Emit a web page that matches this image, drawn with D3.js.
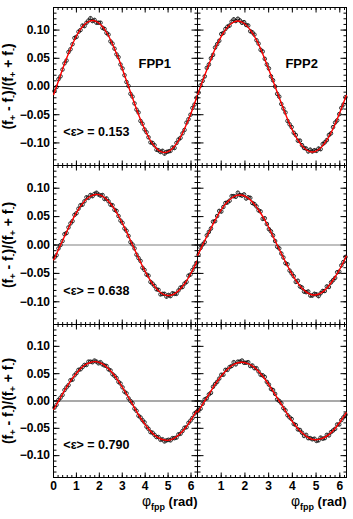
<!DOCTYPE html>
<html>
<head>
<meta charset="utf-8">
<script src="https://cdn.jsdelivr.net/npm/d3@7"></script>
<style>
  body { margin: 0; background: #fff; }
  text { font-family: "Liberation Sans", Arial, sans-serif; font-weight: bold; fill: #000; }
  .tick text { font: bold 12px "Liberation Sans", Arial, sans-serif; fill: #000; }
</style>
</head>
<body>
<div id="grafico"></div>
<script>
// ---- data ----
var fppNames = ["FPP1", "FPP2"];
var epsMean = ["0.153", "0.638", "0.790"];
var yTicks = [-0.10, -0.05, 0, 0.05, 0.10];
var xTicksLeft = [0, 1, 2, 3, 4, 5, 6];
var xTicksRight = [1, 2, 3, 4, 5, 6];
var nBins = 72;   // bins over 0..2pi

// asymmetry per bin, rows = <eps>, columns = FPP1 / FPP2
var asymTL = [-0.008,-0.001,0.013,0.018,0.030,0.041,0.046,0.061,0.066,0.075,
  0.086,0.088,0.097,0.100,0.108,0.107,0.113,0.117,0.121,0.116,
  0.118,0.113,0.113,0.113,0.104,0.102,0.095,0.092,0.080,0.076,
  0.067,0.057,0.052,0.039,0.032,0.020,0.008,0.001,-0.013,-0.018,
  -0.030,-0.041,-0.046,-0.061,-0.066,-0.076,-0.081,-0.090,-0.099,-0.100,
  -0.104,-0.112,-0.113,-0.116,-0.114,-0.119,-0.116,-0.115,-0.114,-0.108,
  -0.109,-0.100,-0.094,-0.091,-0.083,-0.077,-0.064,-0.058,-0.050,-0.038,
  -0.032,-0.020];
var asymTR = [-0.011,0.002,0.010,0.018,0.033,0.039,0.050,0.056,0.069,0.075,
  0.081,0.093,0.095,0.102,0.106,0.108,0.115,0.119,0.116,0.120,
  0.117,0.113,0.114,0.109,0.108,0.098,0.096,0.092,0.082,0.076,
  0.065,0.062,0.049,0.039,0.032,0.018,0.011,0.000,-0.013,-0.018,
  -0.031,-0.039,-0.046,-0.061,-0.067,-0.072,-0.082,-0.086,-0.096,-0.096,
  -0.104,-0.109,-0.110,-0.115,-0.112,-0.115,-0.113,-0.114,-0.110,-0.111,
  -0.102,-0.099,-0.095,-0.086,-0.083,-0.072,-0.064,-0.060,-0.049,-0.038,
  -0.032,-0.019];
var asymML = [-0.022,-0.018,-0.006,0.000,0.007,0.019,0.021,0.031,0.038,0.042,
  0.053,0.056,0.064,0.070,0.071,0.077,0.084,0.083,0.088,0.086,
  0.090,0.092,0.089,0.087,0.088,0.081,0.082,0.077,0.071,0.070,
  0.062,0.060,0.051,0.043,0.039,0.029,0.025,0.016,0.005,0.001,
  -0.006,-0.017,-0.023,-0.028,-0.040,-0.044,-0.052,-0.054,-0.065,-0.068,
  -0.072,-0.078,-0.079,-0.087,-0.086,-0.086,-0.091,-0.088,-0.090,-0.085,
  -0.086,-0.086,-0.080,-0.075,-0.074,-0.068,-0.065,-0.054,-0.052,-0.044,
  -0.038,-0.032];
var asymMR = [-0.017,-0.005,0.001,0.005,0.017,0.023,0.029,0.041,0.042,0.051,
  0.060,0.059,0.067,0.074,0.075,0.078,0.086,0.086,0.085,0.092,
  0.088,0.087,0.089,0.082,0.084,0.083,0.074,0.072,0.068,0.061,
  0.059,0.046,0.047,0.037,0.028,0.024,0.017,0.007,-0.003,-0.006,
  -0.015,-0.022,-0.032,-0.034,-0.045,-0.050,-0.055,-0.065,-0.063,-0.073,
  -0.075,-0.082,-0.083,-0.082,-0.089,-0.089,-0.086,-0.087,-0.090,-0.085,
  -0.081,-0.081,-0.073,-0.074,-0.066,-0.062,-0.058,-0.048,-0.047,-0.036,
  -0.030,-0.021];
var asymBL = [-0.012,-0.007,0.002,0.006,0.011,0.020,0.025,0.029,0.038,0.039,
  0.047,0.051,0.057,0.058,0.062,0.066,0.066,0.072,0.072,0.071,
  0.074,0.072,0.069,0.071,0.067,0.065,0.064,0.058,0.056,0.049,
  0.046,0.042,0.035,0.032,0.025,0.017,0.014,0.005,0.000,-0.004,
  -0.014,-0.018,-0.027,-0.030,-0.035,-0.039,-0.047,-0.051,-0.057,-0.058,
  -0.062,-0.066,-0.066,-0.071,-0.070,-0.074,-0.072,-0.071,-0.072,-0.068,
  -0.068,-0.067,-0.061,-0.060,-0.055,-0.049,-0.048,-0.040,-0.036,-0.031,
  -0.023,-0.020];
var asymBR = [-0.016,-0.014,-0.005,0.003,0.005,0.012,0.015,0.026,0.031,0.035,
  0.041,0.048,0.048,0.057,0.057,0.062,0.064,0.071,0.067,0.072,
  0.072,0.074,0.070,0.070,0.071,0.064,0.065,0.060,0.060,0.054,
  0.048,0.047,0.044,0.035,0.030,0.022,0.020,0.013,0.003,0.000,
  -0.004,-0.013,-0.017,-0.026,-0.030,-0.033,-0.042,-0.044,-0.052,-0.053,
  -0.058,-0.064,-0.062,-0.068,-0.068,-0.070,-0.069,-0.073,-0.072,-0.067,
  -0.069,-0.068,-0.062,-0.063,-0.057,-0.054,-0.051,-0.043,-0.043,-0.035,
  -0.030,-0.025];
var errBar = [0.003, 0.0035, 0.003, 0.0035, 0.0025, 0.003];

// red fit curve, sampled every 15 degrees
var fitPhiDeg = [0,15,30,45,60,75,90,105,120,135,150,165,180,195,210,225,240,255,270,285,300,315,330,345,360];
var fitTL = [-0.015,0.015,0.045,0.071,0.093,0.108,0.116,0.116,0.108,0.093,0.071,0.045,0.015,-0.015,-0.045,-0.071,-0.093,-0.108,-0.116,-0.116,-0.108,-0.093,-0.071,-0.045,-0.015];
var fitTR = [-0.015,0.015,0.044,0.071,0.092,0.107,0.115,0.115,0.107,0.092,0.071,0.044,0.015,-0.015,-0.044,-0.071,-0.092,-0.107,-0.115,-0.115,-0.107,-0.092,-0.071,-0.044,-0.015];
var fitML = [-0.027,-0.004,0.019,0.041,0.060,0.075,0.085,0.089,0.087,0.079,0.066,0.048,0.027,0.004,-0.019,-0.041,-0.060,-0.075,-0.085,-0.089,-0.087,-0.079,-0.066,-0.048,-0.027];
var fitMR = [-0.019,0.004,0.026,0.047,0.065,0.078,0.086,0.088,0.084,0.074,0.059,0.041,0.019,-0.004,-0.026,-0.047,-0.065,-0.078,-0.086,-0.088,-0.084,-0.074,-0.059,-0.041,-0.019];
var fitBL = [-0.016,0.003,0.022,0.039,0.053,0.064,0.070,0.072,0.069,0.061,0.049,0.033,0.016,-0.003,-0.022,-0.039,-0.053,-0.064,-0.070,-0.072,-0.069,-0.061,-0.049,-0.033,-0.016];
var fitBR = [-0.021,-0.003,0.015,0.033,0.048,0.060,0.068,0.071,0.069,0.063,0.052,0.038,0.021,0.003,-0.015,-0.033,-0.048,-0.060,-0.068,-0.071,-0.069,-0.063,-0.052,-0.038,-0.021];

// ---- layout ----
var colX = [[53.5, 197.5], [197.5, 346.5]];
var rowY = [[7.5, 165.5], [165.5, 324.5], [324.5, 477.5]];
var zeroColor = ["#444", "#aaa", "#8c8c8c"];
var zeroWidth = [1, 1.6, 1.4];

var svg = d3.select("#grafico")
  .append("svg")
  .attr("width", 353)
  .attr("height", 519);

var phiMax = 2 * Math.PI;
var binPhi = d3.range(nBins).map(function(i) { return (i + 0.5) * phiMax / nBins; });
var yMinor = d3.range(-14, 15).map(function(v) { return v / 100; });
var xMinor = d3.range(0, 32).map(function(v) { return v / 5; });

var panels = [
  {row: 0, col: 0, pts: asymTL, fit: fitTL, err: errBar[0]},
  {row: 0, col: 1, pts: asymTR, fit: fitTR, err: errBar[1]},
  {row: 1, col: 0, pts: asymML, fit: fitML, err: errBar[2]},
  {row: 1, col: 1, pts: asymMR, fit: fitMR, err: errBar[3]},
  {row: 2, col: 0, pts: asymBL, fit: fitBL, err: errBar[4]},
  {row: 2, col: 1, pts: asymBR, fit: fitBR, err: errBar[5]}
];

panels.forEach(function(p) {
  var x0 = colX[p.col][0], x1 = colX[p.col][1];
  var y0 = rowY[p.row][0], y1 = rowY[p.row][1];

  var x = d3.scaleLinear().domain([0, phiMax]).range([x0, x1]);
  var y = d3.scaleLinear().domain([-0.14, 0.14]).range([y1, y0]);

  var g = svg.append("g");

  // zero line
  g.append("line")
    .attr("x1", x0).attr("x2", x1)
    .attr("y1", y(0)).attr("y2", y(0))
    .attr("stroke", zeroColor[p.row])
    .attr("stroke-width", zeroWidth[p.row]);

  // minor ticks, all four sides, pointing inwards
  g.append("g").attr("transform", "translate(" + x0 + ",0)")
    .call(d3.axisLeft(y).offset(0).tickValues(yMinor).tickSizeInner(-3).tickSizeOuter(0).tickFormat(""));
  g.append("g").attr("transform", "translate(" + x1 + ",0)")
    .call(d3.axisRight(y).offset(0).tickValues(yMinor).tickSizeInner(-3).tickSizeOuter(0).tickFormat(""));
  g.append("g").attr("transform", "translate(0," + y1 + ")")
    .call(d3.axisBottom(x).offset(0).tickValues(xMinor).tickSizeInner(-2.5).tickSizeOuter(0).tickFormat(""));
  g.append("g").attr("transform", "translate(0," + y0 + ")")
    .call(d3.axisTop(x).offset(0).tickValues(xMinor).tickSizeInner(-2.5).tickSizeOuter(0).tickFormat(""));

  // major ticks
  var yLeft = d3.axisLeft(y).offset(0).tickValues(yTicks).tickSizeInner(-6).tickSizeOuter(0).tickPadding(3.5);
  if (p.col == 1) yLeft.tickFormat("");
  else yLeft.tickFormat(d3.format(".2f"));
  g.append("g").attr("transform", "translate(" + x0 + ",0)").call(yLeft);
  g.append("g").attr("transform", "translate(" + x1 + ",0)")
    .call(d3.axisRight(y).offset(0).tickValues(yTicks).tickSizeInner(-6).tickSizeOuter(0).tickFormat(""));

  var xBot = d3.axisBottom(x).offset(0)
    .tickValues(p.col == 0 ? xTicksLeft : xTicksRight)
    .tickSizeInner(-5).tickSizeOuter(0).tickPadding(4)
    .tickFormat(p.row == 2 ? d3.format("d") : "");
  g.append("g").attr("transform", "translate(0," + y1 + ")").call(xBot);
  g.append("g").attr("transform", "translate(0," + y0 + ")")
    .call(d3.axisTop(x).offset(0).tickValues(xTicksLeft).tickSizeInner(-5).tickSizeOuter(0).tickFormat(""));

  // frame
  g.append("rect")
    .attr("x", x0).attr("y", y0)
    .attr("width", x1 - x0).attr("height", y1 - y0)
    .attr("fill", "none").attr("stroke", "#000").attr("stroke-width", 1);

  // error bars + open circles
  var pts = g.append("g");
  pts.selectAll("line.err")
    .data(p.pts)
    .enter()
    .append("line")
      .attr("class", "err")
      .attr("x1", function(d, i) { return x(binPhi[i]); })
      .attr("x2", function(d, i) { return x(binPhi[i]); })
      .attr("y1", function(d) { return y(d - p.err); })
      .attr("y2", function(d) { return y(d + p.err); })
      .attr("stroke", "#111")
      .attr("stroke-width", 0.7);
  pts.selectAll("circle")
    .data(p.pts)
    .enter()
    .append("circle")
      .attr("cx", function(d, i) { return x(binPhi[i]); })
      .attr("cy", function(d) { return y(d); })
      .attr("r", 1.8)
      .attr("fill", "none")
      .attr("stroke", "#000")
      .attr("stroke-width", 0.8);

  // fit
  g.append("path")
    .datum(p.fit)
    .attr("fill", "none")
    .attr("stroke", "#ff0000")
    .attr("stroke-width", 1.4)
    .attr("d", d3.line()
      .curve(d3.curveNatural)
      .x(function(d, i) { return x(fitPhiDeg[i] * Math.PI / 180); })
      .y(function(d) { return y(d); }));

  // <eps> label on the left panels
  if (p.col == 0) {
    g.append("text")
      .attr("x", x(0.43))
      .attr("y", y(-0.0885))
      .attr("font-size", 12.5)
      .text("<ε> = " + epsMean[p.row]);

    // y title
    var t = g.append("text")
      .attr("transform", "translate(13," + ((y0 + y1) / 2) + ") rotate(-90)")
      .attr("text-anchor", "middle")
      .attr("font-size", 14);
    t.append("tspan").text("(f");
    t.append("tspan").attr("dy", 3).attr("font-size", 9).text("+");
    t.append("tspan").attr("dy", -3).text(" - f");
    t.append("tspan").attr("dy", 3).attr("font-size", 9).text("-");
    t.append("tspan").attr("dy", -3).text(")/(f");
    t.append("tspan").attr("dy", 3).attr("font-size", 9).text("+");
    t.append("tspan").attr("dy", -3).text(" + f");
    t.append("tspan").attr("dy", 3).attr("font-size", 9).text("-");
    t.append("tspan").attr("dy", -3).text(")");
  }

  if (p.row == 0) {
    g.append("text")
      .attr("x", x0 + 0.59 * (x1 - x0))
      .attr("y", y(0.033))
      .attr("font-size", 13)
      .text(fppNames[p.col]);
  }

  // x title
  if (p.row == 2) {
    var xt = g.append("text")
      .attr("x", x1)
      .attr("y", 506)
      .attr("text-anchor", "end")
      .attr("font-size", 13);
    xt.append("tspan").attr("font-weight", "normal").attr("font-size", 14).text("φ");
    xt.append("tspan").attr("dy", 4).attr("font-size", 9).text("fpp");
    xt.append("tspan").attr("dy", -4).text(" (rad)");
  }
});
</script>
</body>
</html>
